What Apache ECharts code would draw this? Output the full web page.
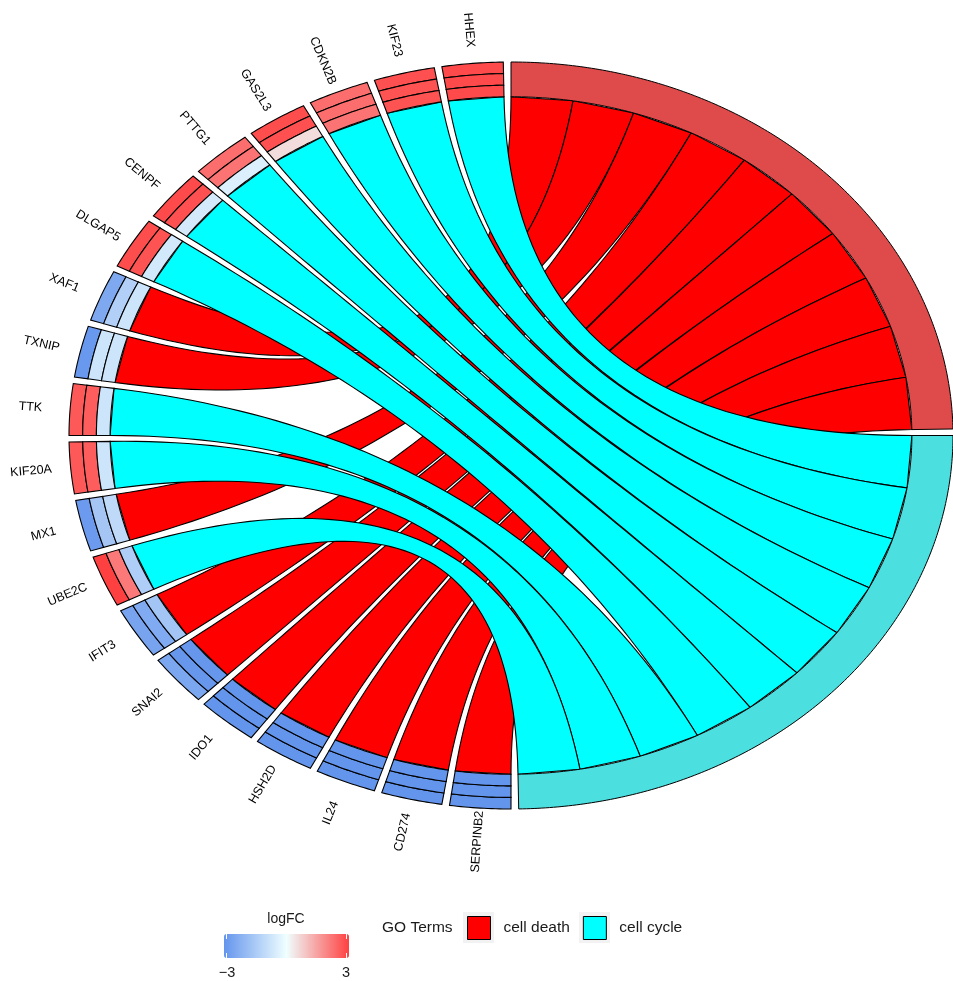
<!DOCTYPE html>
<html>
<head>
    <meta charset="utf-8">
    <title>GO Chord</title>
    <script src="https://cdn.jsdelivr.net/npm/echarts@6/dist/echarts.min.js"></script>
    <style>body { margin: 0; background: #fff; }</style>
</head>
<body>
    <div id="div_chord" style="width: 953px; height: 981px;"></div>

    <script type="text/javascript">
        // genes, counter-clockwise from the top of the circle
        var genes = ['HHEX', 'KIF23', 'CDKN2B', 'GAS2L3', 'PTTG1', 'CENPF', 'DLGAP5', 'XAF1', 'TXNIP', 'TTK',
                     'KIF20A', 'MX1', 'UBE2C', 'IFIT3', 'SNAI2', 'IDO1', 'HSH2D', 'IL24', 'CD274', 'SERPINB2'];
        // logFC tiles: outer, middle and inner ring
        var logFC1 = [2.85, 2.75, 2.3, 2.8, 2.3, 2.85, 2.8, -2.45, -2.9, 2.6, 2.6, -2.85, 3.0, -2.6, -2.5, -3, -3, -3, -3, -3];
        var logFC2 = [2.85, 2.7, 2.3, 2.75, 2.2, 2.75, 2.7, -1.35, -0.75, 2.55, 2.55, -1.6, 2.1, -2.4, -2.95, -3, -3, -3, -3, -3];
        var logFC3 = [2.85, 2.7, 2.2, 0.55, -0.45, -0.6, -0.65, -0.75, -0.75, -0.75, -0.75, -1.05, -1.4, -1.65, -2.95, -3, -3, -3, -3, -3];
        // GO terms and their genes, clockwise along each term
        var terms = ['cell death', 'cell cycle'];
        var deathGenes = ['XAF1', 'TXNIP', 'MX1', 'IFIT3', 'SNAI2', 'IDO1', 'HSH2D', 'IL24', 'CD274', 'SERPINB2'];
        var cycleGenes = ['HHEX', 'KIF23', 'CDKN2B', 'GAS2L3', 'PTTG1', 'CENPF', 'DLGAP5', 'TTK', 'KIF20A', 'UBE2C'];
        var termGenes = [deathGenes, cycleGenes];

        var ribbonColors = ['#FF0000', '#00FFFF'];
        var ringColors = ['#DF4B4B', '#4BDFDF'];
        var FONT = "'Liberation Sans', Arial, sans-serif";

        var R_IN = 0.907, R_OUT = 1.0, R_LAB = 1.09;
        var GENE_START = 91, GENE_STEP = 9, GENE_WIDTH = 8;
        var TERM_START = [90, 0], TERM_SPAN = 89;
        var DEG = Math.PI / 180;

        function pt(r, a) {
            return [r * Math.cos(a * DEG), r * Math.sin(a * DEG)];
        }
        function arc(r, a1, a2, out) {
            var n = Math.max(2, Math.ceil(Math.abs(a2 - a1) / 0.5));
            for (var i = 0; i <= n; i++) out.push(pt(r, a1 + (a2 - a1) * i / n));
        }
        // quadratic bezier with its control point at the centre
        function bezier(a, b, out) {
            var p0 = pt(R_IN, a), p2 = pt(R_IN, b);
            for (var i = 0; i <= 60; i++) {
                var t = i / 60, u = 1 - t;
                out.push([u * u * p0[0] + t * t * p2[0], u * u * p0[1] + t * t * p2[1]]);
            }
        }
        function ringShape(api, r1, r2, a1, a2) {
            var pts = [];
            arc(r2, a1, a2, pts);
            arc(r1, a2, a1, pts);
            return pts.map(function (p) { return api.coord(p); });
        }

        function renderRibbon(params, api) {
            var g = api.value(0), k = api.value(1), t = api.value(2);
            var g1 = GENE_START + GENE_STEP * g, g2 = g1 + GENE_WIDTH;
            var slot = TERM_SPAN / termGenes[t].length;
            var hi = TERM_START[t] - slot * k, lo = hi - slot;
            var a = [], b = [];
            bezier(g1, hi, a);
            bezier(g2, lo, b);
            var pts = a.concat(b.reverse()).map(function (p) { return api.coord(p); });
            return {
                type: 'polygon',
                shape: { points: pts },
                style: { fill: ribbonColors[t], stroke: '#000', lineWidth: 1.1 }
            };
        }

        function renderTerm(params, api) {
            var t = api.value(0);
            return {
                type: 'polygon',
                shape: { points: ringShape(api, R_IN, R_OUT, TERM_START[t] - TERM_SPAN, TERM_START[t]) },
                style: { fill: ringColors[t], stroke: '#000', lineWidth: 1 }
            };
        }

        function renderTile(params, api) {
            var g = api.value(0), band = api.value(1);
            var w = (R_OUT - R_IN) / 3;
            var r2 = R_OUT - w * band, r1 = r2 - w;
            var a1 = GENE_START + GENE_STEP * g;
            return {
                type: 'polygon',
                shape: { points: ringShape(api, r1, r2, a1, a1 + GENE_WIDTH) },
                style: { fill: api.visual('color'), stroke: '#000', lineWidth: 1.1 }
            };
        }

        function renderLabel(params, api) {
            var g = api.value(0);
            var a = GENE_START + GENE_STEP * g + GENE_WIDTH / 2;
            var p = api.coord(pt(R_LAB, a));
            return {
                type: 'text',
                x: p[0],
                y: p[1],
                rotation: (a + 180) * DEG,
                style: {
                    text: genes[g], fontSize: 12.5, fontFamily: FONT, fill: '#000',
                    align: 'center', verticalAlign: 'middle'
                }
            };
        }

        function ribbonData(t) {
            return termGenes[t].map(function (name, k) { return [genes.indexOf(name), k, t]; });
        }
        var tileData = [];
        genes.forEach(function (name, i) {
            tileData.push([i, 0, logFC1[i]]);
            tileData.push([i, 1, logFC2[i]]);
            tileData.push([i, 2, logFC3[i]]);
        });

        var myChart = echarts.init(document.getElementById('div_chord'));
        myChart.setOption({
            animation: false,
            grid: { left: 69, top: 62, width: 890, height: 747 },
            xAxis: { type: 'value', min: -1, max: 1, show: false },
            yAxis: { type: 'value', min: -1, max: 1, show: false },
            legend: {
                data: terms,
                left: 467,
                top: 916,
                padding: 0,
                itemWidth: 23,
                itemHeight: 23,
                itemGap: 13,
                icon: 'rect',
                selectedMode: false,
                itemStyle: { borderColor: '#000', borderWidth: 1 },
                textStyle: { fontSize: 15.5, fontFamily: FONT, color: '#1a1a1a', padding: [0, 0, 0, 8] }
            },
            visualMap: {
                type: 'continuous',
                min: -3,
                max: 3,
                dimension: 2,
                seriesIndex: 3,
                orient: 'horizontal',
                left: 224,
                top: 934,
                padding: 0,
                itemWidth: 24,
                itemHeight: 125,
                calculable: false,
                inRange: { color: ['#6495ED', '#F0FFFF', '#FF4040'] }
            },
            graphic: [
                { type: 'rect', shape: { x: 463, y: 912, width: 31, height: 31 }, style: { fill: '#F2F2F2' } },
                { type: 'rect', shape: { x: 579, y: 912, width: 31, height: 31 }, style: { fill: '#F2F2F2' } },
                { type: 'text', x: 382, y: 928, style: { text: 'GO Terms', fontSize: 15.5, fontFamily: FONT, fill: '#1a1a1a', verticalAlign: 'middle' } },
                { type: 'text', x: 286, y: 919, style: { text: 'logFC', fontSize: 14, fontFamily: FONT, fill: '#1a1a1a', align: 'center', verticalAlign: 'middle' } },
                { type: 'text', x: 227, y: 973, style: { text: '−3', fontSize: 14.5, fontFamily: FONT, fill: '#1a1a1a', align: 'center', verticalAlign: 'middle' } },
                { type: 'text', x: 346, y: 973, style: { text: '3', fontSize: 14.5, fontFamily: FONT, fill: '#1a1a1a', align: 'center', verticalAlign: 'middle' } },
                { type: 'line', z: 10, shape: { x1: 226.5, y1: 934, x2: 226.5, y2: 939 }, style: { stroke: '#fff', lineWidth: 1 } },
                { type: 'line', z: 10, shape: { x1: 226.5, y1: 953, x2: 226.5, y2: 958 }, style: { stroke: '#fff', lineWidth: 1 } },
                { type: 'line', z: 10, shape: { x1: 346.5, y1: 934, x2: 346.5, y2: 939 }, style: { stroke: '#fff', lineWidth: 1 } },
                { type: 'line', z: 10, shape: { x1: 346.5, y1: 953, x2: 346.5, y2: 958 }, style: { stroke: '#fff', lineWidth: 1 } }
            ],
            series: [
                {
                    name: 'cell death', type: 'custom', silent: true, clip: false,
                    itemStyle: { color: ribbonColors[0] },
                    renderItem: renderRibbon, data: ribbonData(0)
                },
                {
                    name: 'cell cycle', type: 'custom', silent: true, clip: false,
                    itemStyle: { color: ribbonColors[1] },
                    renderItem: renderRibbon, data: ribbonData(1)
                },
                {
                    name: 'terms', type: 'custom', silent: true, clip: false,
                    renderItem: renderTerm, data: [[0], [1]]
                },
                {
                    name: 'logFC', type: 'custom', silent: true, clip: false,
                    renderItem: renderTile, data: tileData
                },
                {
                    name: 'genes', type: 'custom', silent: true, clip: false,
                    renderItem: renderLabel, data: genes.map(function (name, i) { return [i]; })
                }
            ]
        });
    </script>
</body>
</html>
